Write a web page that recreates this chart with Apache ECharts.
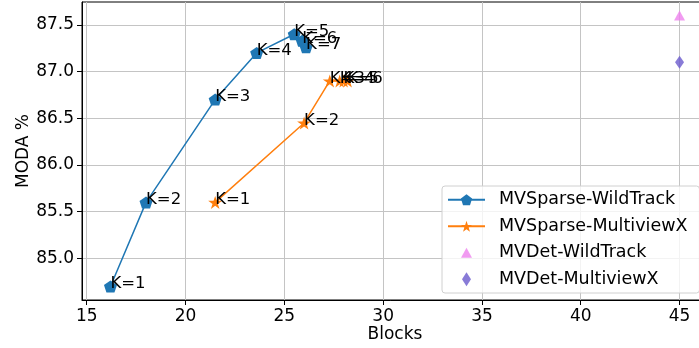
<!DOCTYPE html>
<html>
<head>
<meta charset="utf-8">
<script src="https://cdn.jsdelivr.net/npm/echarts@6/dist/echarts.min.js"></script>
<style>
html,body{margin:0;padding:0;background:#fff;}
#chart{width:699px;height:348px;}
</style>
</head>
<body>
<div id="chart"></div>
<script>
// ---- data ----
const wildBlocks = [16.2, 18.0, 21.5, 23.6, 25.5, 25.9, 26.1];
const wildModa   = [84.7, 85.6, 86.7, 87.2, 87.4, 87.33, 87.26];
const wildK      = ['K=1', 'K=2', 'K=3', 'K=4', 'K=5', 'K=6', 'K=7'];

const mvxBlocks = [21.5, 26.0, 27.3, 27.8, 28.0, 28.2];
const mvxModa   = [85.6, 86.45, 86.9, 86.9, 86.9, 86.9];
const mvxK      = ['K=1', 'K=2', 'K=3', 'K=4', 'K=5', 'K=6'];

const mvdetWildBlocks = [45];
const mvdetWildModa   = [87.6];
const mvdetMvxBlocks  = [45];
const mvdetMvxModa    = [87.1];

const seriesNames = ['MVSparse-WildTrack', 'MVSparse-MultiviewX', 'MVDet-WildTrack', 'MVDet-MultiviewX'];
const xTicks = [15, 20, 25, 30, 35, 40, 45];
const yTicks = [85.0, 85.5, 86.0, 86.5, 87.0, 87.5];

// ---- styling ----
const FONT = 'DejaVu Sans';
const pentagon = 'path://M0,-1 L0.951,-0.309 L0.588,0.809 L-0.588,0.809 L-0.951,-0.309 Z';
const star = 'path://M0,-1 L-0.2245,-0.309 L-0.951,-0.309 L-0.363,0.118 L-0.588,0.809 L0,0.382 L0.588,0.809 L0.363,0.118 L0.951,-0.309 L0.2245,-0.309 Z';
// padded (square box) symbols so legend icons keep their size
const triangle = 'path://M-7,-7 L-7,-7 M7,7 L7,7 M0,-5 L5.5,5 L-5.5,5 Z';
const diamond = 'path://M0,-7 L4.5,0 L0,7 L-4.5,0 Z';

function pairs(xs, ys, labels) {
  return xs.map((x, i) => ({ value: [x, ys[i]], name: labels ? labels[i] : '' }));
}

const kLabel = {
  show: true,
  position: ['50%', '50%'],
  align: 'left',
  verticalAlign: 'bottom',
  offset: [0, 6],
  formatter: p => p.name,
  color: '#000',
  fontFamily: FONT,
  fontSize: 16.5
};

const chart = echarts.init(document.getElementById('chart'), null, { renderer: 'canvas' });
chart.setOption({
  animation: false,
  backgroundColor: '#fff',
  grid: { left: 82, top: 2, width: 626, height: 298, outerBoundsMode: 'none', containLabel: false, show: true, borderColor: '#000', borderWidth: 1, backgroundColor: 'transparent' },
  xAxis: {
    type: 'value',
    min: 14.76, max: 46.44,
    name: 'Blocks', nameLocation: 'middle', nameGap: 26, nameMoveOverlap: false,
    nameTextStyle: { fontFamily: FONT, fontSize: 17, color: '#000' },
    axisLine: { show: true, lineStyle: { color: '#000', width: 1 } },
    axisTick: { show: true, inside: false, length: 5, customValues: xTicks, lineStyle: { color: '#000' } },
    axisLabel: { customValues: xTicks, margin: 8, fontFamily: FONT, fontSize: 17, color: '#000', formatter: v => String(v) },
    splitLine: { show: true, lineStyle: { color: '#c4c4c4', width: 1 } }
  },
  yAxis: {
    type: 'value',
    min: 84.555, max: 87.745,
    name: 'MODA %', nameLocation: 'middle', nameGap: 50, nameMoveOverlap: false,
    nameTextStyle: { fontFamily: FONT, fontSize: 17, color: '#000' },
    axisLine: { show: true, lineStyle: { color: '#000', width: 1 } },
    axisTick: { show: true, inside: false, length: 5, customValues: yTicks, lineStyle: { color: '#000' } },
    axisLabel: { customValues: yTicks, margin: 8, fontFamily: FONT, fontSize: 17, color: '#000', formatter: v => v.toFixed(1) },
    splitLine: { show: true, lineStyle: { color: '#c4c4c4', width: 1 } }
  },
  legend: {
    orient: 'vertical',
    left: 442, top: 186,
    padding: [4, 12, 4, 5],
    itemWidth: 37, itemHeight: 14, itemGap: 7,
    symbolKeepAspect: true,
    backgroundColor: 'rgba(255,255,255,0.8)',
    borderColor: '#d0d0d0', borderWidth: 1, borderRadius: 3,
    textStyle: { fontFamily: FONT, fontSize: 17.5, color: '#000', lineHeight: 19.5, padding: [0, 0, 0, 9] },
    data: seriesNames
  },
  series: [
    {
      name: seriesNames[0], type: 'line',
      data: pairs(wildBlocks, wildModa, wildK),
      symbol: pentagon, symbolSize: [13, 12],
      itemStyle: { color: '#1f77b4' },
      lineStyle: { color: '#1f77b4', width: 1.5 },
      label: kLabel, z: 3
    },
    {
      name: seriesNames[1], type: 'line',
      data: pairs(mvxBlocks, mvxModa, mvxK),
      symbol: star, symbolSize: [14, 13],
      itemStyle: { color: '#ff7f0e' },
      lineStyle: { color: '#ff7f0e', width: 1.5 },
      label: kLabel, z: 3
    },
    {
      name: seriesNames[2], type: 'scatter',
      data: pairs(mvdetWildBlocks, mvdetWildModa),
      symbol: triangle, symbolSize: 14, symbolKeepAspect: true,
      itemStyle: { color: '#ee82ee' }, z: 3
    },
    {
      name: seriesNames[3], type: 'scatter',
      data: pairs(mvdetMvxBlocks, mvdetMvxModa),
      symbol: diamond, symbolSize: [9, 13],
      itemStyle: { color: '#6a5acd' }, z: 3
    }
  ]
});
</script>
</body>
</html>
